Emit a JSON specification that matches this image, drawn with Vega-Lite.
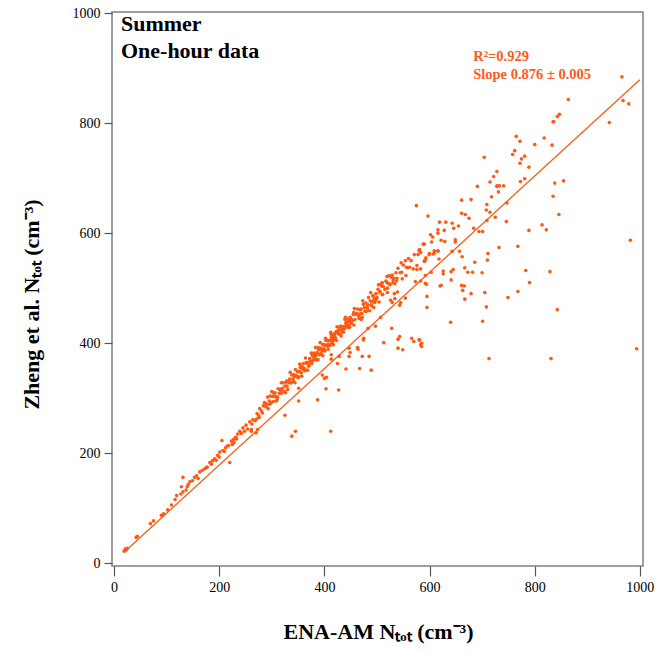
{
 "$schema": "https://vega.github.io/schema/vega-lite/v6.json",
 "width": 531,
 "height": 554,
 "autosize": "none",
 "padding": {"left": 112, "top": 12, "right": 15, "bottom": 86},
 "background": "white",
 "config": {
  "font": "Liberation Serif",
  "view": {"stroke": "#808080", "strokeWidth": 1.5},
  "axis": {"grid": false, "domain": false, "labelFont": "Liberation Serif", "labelFontSize": 14, "labelColor": "#000", "tickColor": "#555", "tickWidth": 1.2, "titleFont": "Liberation Serif", "titleFontSize": 22, "titleFontWeight": "bold", "titleColor": "#000"}
 },
 "encoding": {
  "x": {"field": "x", "type": "quantitative", "scale": {"domain": [-4, 1006], "nice": false, "zero": false},
   "axis": {"values": [0, 200, 400, 600, 800, 1000], "format": "d", "tickSize": 10, "labelPadding": 4, "title": "ENA-AM Nₜₒₜ (cm⁻³)", "titleX": 266, "titleY": 72, "titleBaseline": "alphabetic"}},
  "y": {"field": "y", "type": "quantitative", "scale": {"domain": [-5, 1002], "nice": false, "zero": false},
   "axis": {"values": [0, 200, 400, 600, 800, 1000], "format": "d", "tickSize": 8, "labelPadding": 4, "title": "Zheng et al. Nₜₒₜ (cm⁻³)", "titleX": -74, "titleY": 292, "titleAngle": 270, "titleBaseline": "alphabetic"}}
 },
 "layer": [
  {
   "data": {"values": [
    {"x":21,"y":26},{"x":23,"y":24},{"x":19,"y":22},{"x":25,"y":27},{"x":42,"y":47},{"x":44,"y":49},{"x":69,"y":72},{"x":75,"y":77},{"x":90,"y":87},{"x":94,"y":90},{"x":102,"y":97},{"x":109,"y":106},{"x":116,"y":116},{"x":119,"y":123},{"x":127,"y":126},{"x":131,"y":130},{"x":137,"y":133},{"x":139,"y":139},{"x":128,"y":139},{"x":131,"y":156},{"x":141,"y":143},{"x":144,"y":148},{"x":149,"y":150},{"x":153,"y":156},{"x":157,"y":159},{"x":160,"y":154},{"x":163,"y":166},{"x":168,"y":169},{"x":173,"y":172},{"x":177,"y":175},{"x":182,"y":183},{"x":187,"y":186},{"x":191,"y":190},{"x":194,"y":187},{"x":200,"y":193},{"x":205,"y":223},{"x":201,"y":202},{"x":207,"y":205},{"x":212,"y":210},{"x":215,"y":213},{"x":223,"y":222},{"x":227,"y":225},{"x":231,"y":229},{"x":225,"y":216},{"x":235,"y":235},{"x":239,"y":240},{"x":245,"y":246},{"x":251,"y":251},{"x":258,"y":257},{"x":264,"y":261},{"x":271,"y":262},{"x":261,"y":240},{"x":273,"y":243},{"x":176,"y":174},{"x":185,"y":180},{"x":197,"y":196},{"x":210,"y":203},{"x":218,"y":214},{"x":228,"y":219},{"x":233,"y":226},{"x":242,"y":236},{"x":248,"y":240},{"x":254,"y":244},{"x":262,"y":253},{"x":268,"y":259},{"x":276,"y":265},
    {"x":272,"y":272},{"x":275,"y":268},{"x":277,"y":281},{"x":280,"y":277},{"x":282,"y":273},{"x":284,"y":286},{"x":286,"y":292},{"x":289,"y":284},{"x":291,"y":289},{"x":293,"y":281},{"x":295,"y":295},{"x":297,"y":304},{"x":299,"y":292},{"x":301,"y":303},{"x":303,"y":294},{"x":305,"y":303},{"x":306,"y":310},{"x":308,"y":303},{"x":310,"y":298},{"x":312,"y":317},{"x":314,"y":309},{"x":316,"y":316},{"x":318,"y":309},{"x":320,"y":318},{"x":321,"y":328},{"x":323,"y":312},{"x":325,"y":322},{"x":327,"y":329},{"x":329,"y":322},{"x":330,"y":316},{"x":332,"y":331},{"x":334,"y":335},{"x":336,"y":328},{"x":338,"y":342},{"x":340,"y":335},{"x":341,"y":331},{"x":343,"y":339},{"x":345,"y":352},{"x":347,"y":340},{"x":349,"y":348},{"x":350,"y":337},{"x":352,"y":349},{"x":354,"y":356},{"x":356,"y":346},{"x":358,"y":353},{"x":360,"y":363},{"x":361,"y":352},{"x":363,"y":350},{"x":365,"y":364},{"x":367,"y":364},{"x":369,"y":365},{"x":371,"y":360},{"x":372,"y":372},{"x":374,"y":367},{"x":376,"y":363},{"x":378,"y":376},{"x":380,"y":382},{"x":381,"y":372},{"x":383,"y":377},{"x":385,"y":370},{"x":386,"y":383},{"x":388,"y":392},{"x":390,"y":380},{"x":392,"y":391},{"x":394,"y":381},{"x":395,"y":389},{"x":397,"y":397},{"x":399,"y":390},{"x":401,"y":386},{"x":403,"y":405},{"x":405,"y":397},{"x":407,"y":404},{"x":409,"y":397},{"x":411,"y":405},{"x":413,"y":416},{"x":415,"y":400},{"x":417,"y":409},{"x":419,"y":417},{"x":421,"y":410},{"x":423,"y":405},{"x":425,"y":421},{"x":427,"y":424},{"x":429,"y":417},{"x":431,"y":431},{"x":433,"y":424},{"x":435,"y":421},{"x":437,"y":430},{"x":439,"y":443},{"x":441,"y":431},{"x":443,"y":438},{"x":445,"y":428},{"x":447,"y":440},{"x":449,"y":447},
    {"x":288,"y":290},{"x":296,"y":289},{"x":304,"y":309},{"x":311,"y":302},{"x":317,"y":314},{"x":324,"y":312},{"x":328,"y":331},{"x":333,"y":328},{"x":337,"y":328},{"x":342,"y":343},{"x":346,"y":341},{"x":351,"y":339},{"x":355,"y":359},{"x":359,"y":356},{"x":362,"y":354},{"x":366,"y":365},{"x":370,"y":358},{"x":373,"y":368},{"x":377,"y":379},{"x":379,"y":369},{"x":382,"y":379},{"x":384,"y":370},{"x":387,"y":381},{"x":389,"y":388},{"x":391,"y":379},{"x":393,"y":388},{"x":396,"y":387},{"x":398,"y":398},{"x":400,"y":387},{"x":402,"y":396},{"x":404,"y":406},{"x":406,"y":395},{"x":408,"y":405},{"x":410,"y":396},{"x":412,"y":405},{"x":414,"y":414},{"x":416,"y":405},{"x":418,"y":413},{"x":420,"y":407},{"x":422,"y":420},{"x":426,"y":417},{"x":430,"y":416},{"x":434,"y":429},{"x":438,"y":426},{"x":442,"y":438},{"x":446,"y":432},
    {"x":292,"y":302},{"x":300,"y":312},{"x":309,"y":295},{"x":318,"y":328},{"x":326,"y":310},{"x":335,"y":347},{"x":344,"y":328},{"x":353,"y":362},{"x":357,"y":340},{"x":364,"y":373},{"x":368,"y":351},{"x":375,"y":382},{"x":383,"y":392},{"x":388,"y":370},{"x":392,"y":401},{"x":397,"y":377},{"x":402,"y":409},{"x":407,"y":389},{"x":412,"y":420},{"x":417,"y":397},{"x":424,"y":430},{"x":432,"y":413},{"x":440,"y":447},{"x":448,"y":429},{"x":457,"y":463},{"x":466,"y":445},{"x":473,"y":477},{"x":480,"y":458},{"x":488,"y":492},{"x":496,"y":474},{"x":503,"y":506},{"x":511,"y":489},{"x":519,"y":521},{"x":537,"y":513},{"x":546,"y":546},
    {"x":451,"y":444},{"x":453,"y":441},{"x":455,"y":452},{"x":458,"y":443},{"x":460,"y":452},{"x":463,"y":462},{"x":465,"y":451},{"x":468,"y":461},{"x":471,"y":454},{"x":474,"y":471},{"x":476,"y":465},{"x":479,"y":473},{"x":481,"y":466},{"x":484,"y":483},{"x":487,"y":477},{"x":489,"y":470},{"x":492,"y":486},{"x":495,"y":481},{"x":498,"y":490},{"x":500,"y":483},{"x":502,"y":498},{"x":506,"y":494},{"x":508,"y":508},{"x":512,"y":503},{"x":515,"y":498},{"x":517,"y":513},{"x":521,"y":509},{"x":525,"y":506},{"x":527,"y":520},{"x":531,"y":515},{"x":536,"y":528},{"x":540,"y":536},{"x":544,"y":528},{"x":550,"y":542},{"x":556,"y":538},{"x":560,"y":554},{"x":565,"y":550},{"x":571,"y":561},{"x":583,"y":565},{"x":588,"y":580},
    {"x":428,"y":429},{"x":432,"y":424},{"x":436,"y":420},{"x":423,"y":421},{"x":419,"y":415},{"x":413,"y":410},{"x":415,"y":403},{"x":411,"y":397},{"x":444,"y":444},{"x":449,"y":441},{"x":451,"y":436},{"x":441,"y":436},{"x":437,"y":430},{"x":456,"y":433},{"x":456,"y":456},{"x":462,"y":454},{"x":466,"y":447},{"x":470,"y":443},{"x":470,"y":462},{"x":477,"y":458},{"x":469,"y":454},{"x":472,"y":447},{"x":483,"y":470},{"x":482,"y":464},{"x":486,"y":459},{"x":490,"y":468},{"x":494,"y":465},{"x":493,"y":486},{"x":499,"y":481},{"x":504,"y":475},{"x":497,"y":478},{"x":491,"y":476},{"x":505,"y":493},{"x":510,"y":488},{"x":509,"y":504},{"x":520,"y":492},{"x":533,"y":490},{"x":539,"y":493},{"x":526,"y":478},{"x":529,"y":474},{"x":534,"y":481},{"x":545,"y":474},{"x":554,"y":482},{"x":543,"y":469},{"x":510,"y":510},{"x":518,"y":511},{"x":520,"y":500},{"x":530,"y":510},{"x":534,"y":508},{"x":523,"y":508},{"x":523,"y":523},{"x":529,"y":524},{"x":532,"y":518},{"x":547,"y":529},{"x":555,"y":523},{"x":548,"y":517},{"x":538,"y":518},{"x":558,"y":537},{"x":562,"y":538},{"x":569,"y":535},{"x":576,"y":534},{"x":576,"y":541},{"x":554,"y":550},{"x":591,"y":549},{"x":593,"y":555},{"x":578,"y":561},{"x":580,"y":568},{"x":600,"y":563},{"x":609,"y":564},{"x":616,"y":567},
    {"x":220,"y":183},{"x":261,"y":243},{"x":270,"y":237},{"x":325,"y":269},{"x":338,"y":231},{"x":345,"y":240},{"x":351,"y":295},{"x":351,"y":318},{"x":387,"y":297},{"x":396,"y":342},{"x":400,"y":336},{"x":404,"y":338},{"x":403,"y":317},{"x":412,"y":240},{"x":427,"y":315},{"x":413,"y":379},{"x":413,"y":371},{"x":425,"y":363},{"x":428,"y":376},{"x":441,"y":353},{"x":447,"y":376},{"x":447,"y":391},{"x":449,"y":383},{"x":463,"y":392},{"x":464,"y":389},{"x":467,"y":354},{"x":472,"y":376},{"x":474,"y":406},{"x":475,"y":409},{"x":485,"y":376},{"x":489,"y":351},{"x":483,"y":427},{"x":497,"y":431},{"x":507,"y":447},{"x":513,"y":401},{"x":528,"y":427},{"x":540,"y":407},{"x":543,"y":412},{"x":540,"y":391},{"x":549,"y":388},{"x":566,"y":409},{"x":570,"y":403},{"x":580,"y":406},{"x":585,"y":400},{"x":583,"y":397},{"x":585,"y":394},{"x":573,"y":512},{"x":592,"y":509},{"x":595,"y":485},{"x":595,"y":465},{"x":622,"y":505},{"x":640,"y":438},{"x":701,"y":440},{"x":713,"y":372},
    {"x":575,"y":650},{"x":597,"y":631},{"x":619,"y":620},{"x":631,"y":620},{"x":643,"y":618},{"x":655,"y":613},{"x":646,"y":609},{"x":616,"y":606},{"x":616,"y":600},{"x":628,"y":605},{"x":684,"y":609},{"x":694,"y":603},{"x":701,"y":603},{"x":602,"y":597},{"x":606,"y":593},{"x":629,"y":585},{"x":649,"y":588},{"x":649,"y":584},{"x":622,"y":587},{"x":604,"y":584},{"x":590,"y":580},{"x":581,"y":570},{"x":609,"y":568},{"x":616,"y":568},{"x":607,"y":562},{"x":599,"y":561},{"x":592,"y":552},{"x":590,"y":549},{"x":618,"y":553},{"x":643,"y":567},{"x":657,"y":567},{"x":662,"y":557},{"x":686,"y":547},{"x":711,"y":563},{"x":710,"y":551},{"x":732,"y":574},{"x":768,"y":576},{"x":789,"y":605},{"x":814,"y":615},{"x":822,"y":606},{"x":835,"y":667},{"x":583,"y":535},{"x":592,"y":523},{"x":603,"y":529},{"x":626,"y":531},{"x":626,"y":526},{"x":641,"y":530},{"x":645,"y":534},{"x":667,"y":537},{"x":673,"y":529},{"x":682,"y":529},{"x":700,"y":528},{"x":583,"y":513},{"x":594,"y":507},{"x":641,"y":515},{"x":620,"y":504},{"x":661,"y":505},{"x":666,"y":504},{"x":663,"y":496},{"x":679,"y":490},{"x":705,"y":492},{"x":667,"y":480},{"x":749,"y":483},{"x":768,"y":494},{"x":783,"y":532},{"x":790,"y":510},{"x":829,"y":530},{"x":708,"y":466},{"x":843,"y":461},{"x":581,"y":406},{"x":831,"y":372},
    {"x":691,"y":685},{"x":715,"y":693},{"x":729,"y":686},{"x":733,"y":686},{"x":741,"y":686},{"x":773,"y":694},{"x":718,"y":666},{"x":731,"y":675},{"x":661,"y":660},{"x":679,"y":661},{"x":709,"y":652},{"x":708,"y":642},{"x":715,"y":638},{"x":661,"y":636},{"x":668,"y":634},{"x":675,"y":627},{"x":747,"y":655},{"x":725,"y":629},{"x":709,"y":623},{"x":746,"y":621},{"x":704,"y":738},{"x":722,"y":703},{"x":728,"y":712},{"x":728,"y":685},{"x":758,"y":743},{"x":762,"y":750},{"x":765,"y":776},{"x":772,"y":767},{"x":775,"y":735},{"x":772,"y":727},{"x":781,"y":740},{"x":789,"y":720},{"x":781,"y":699},{"x":800,"y":761},{"x":818,"y":773},{"x":833,"y":760},{"x":835,"y":802},{"x":942,"y":801},{"x":838,"y":691},{"x":855,"y":695},{"x":966,"y":884},{"x":864,"y":843},{"x":968,"y":841},{"x":979,"y":835},{"x":836,"y":803},{"x":843,"y":812},{"x":847,"y":816},{"x":846,"y":634},{"x":982,"y":587},{"x":994,"y":390}
   ]},
   "mark": {"type": "circle", "size": 13, "color": "#ff5a0f", "opacity": 1}
  },
  {
   "data": {"values": [{"x": 20, "y": 21}, {"x": 1000, "y": 879}]},
   "mark": {"type": "line", "color": "#ff5a0f", "strokeWidth": 1.3},
   "encoding": {}
  },
  {
   "data": {"values": [{"x": 13, "y": 968, "label": "Summer"}, {"x": 13, "y": 919, "label": "One-hour data"}]},
   "mark": {"type": "text", "align": "left", "baseline": "alphabetic", "fontSize": 22, "fontWeight": "bold", "color": "#000", "font": "Liberation Serif"},
   "encoding": {"text": {"field": "label"}}
  },
  {
   "data": {"values": [{"x": 683, "y": 913, "label": "R²=0.929"}, {"x": 683, "y": 880, "label": "Slope 0.876 ± 0.005"}]},
   "mark": {"type": "text", "align": "left", "baseline": "alphabetic", "fontSize": 14.5, "fontWeight": "bold", "color": "#ff5a1a", "font": "Liberation Serif"},
   "encoding": {"text": {"field": "label"}}
  }
 ]
}
